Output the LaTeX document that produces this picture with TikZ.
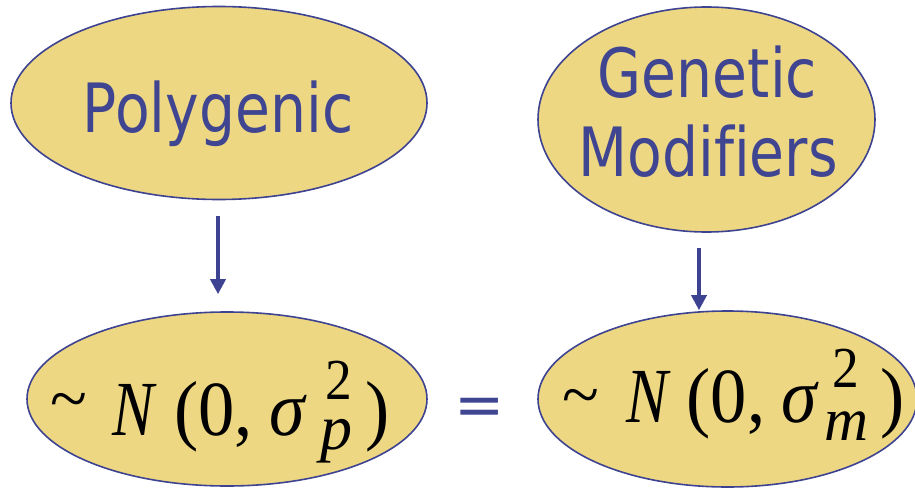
\documentclass[tikz,border=0pt]{standalone}
\usepackage{fontspec}
\usepackage{graphicx}
\usetikzlibrary{shapes.geometric,arrows.meta}
\setmainfont{DejaVu Sans}
\newfontfamily\tms{LiberationSerif}[Extension=.ttf, UprightFont=*-Regular, ItalicFont=*-Italic, BoldFont=*-Bold]
\definecolor{ellfill}{HTML}{EDD783}
\definecolor{ellline}{HTML}{3D4391}
\definecolor{txtblue}{HTML}{3F4590}
\tikzset{
  oval/.style={ellipse, draw=ellline, fill=ellfill, line width=1.6pt, inner sep=0pt},
  wordtxt/.style={anchor=base, inner sep=0pt, text=txtblue, font=\fontsize{68}{68}\selectfont},
  mrom/.style={inner sep=0pt, text=black, font=\tms\fontsize{#1}{#1}\selectfont},
  mital/.style={inner sep=0pt, text=black, font=\tms\itshape\fontsize{#1}{#1}\selectfont},
  arr/.style={draw=ellline, line width=3.5pt, -{Triangle[width=15pt,length=15pt]}}
}
\begin{document}
\begin{tikzpicture}[x=1pt,y=-1pt]
\useasboundingbox (0,0) rectangle (915,487);
% ellipses
\node[oval, minimum width=416pt, minimum height=193pt] (poly) at (219,103) {};
\node[oval, minimum width=337pt, minimum height=225pt] (gm) at (706.5,119.5) {};
\node[oval, minimum width=400pt, minimum height=174pt] (np) at (227,399) {};
\node[oval, minimum width=379pt, minimum height=176pt] (nm) at (727.5,399) {};
% words
\node[wordtxt] (tpoly) at (218,132) {\scalebox{0.835}[1]{Polygenic}};
\node[wordtxt] (tgen) at (707.5,97) {\scalebox{0.835}[1]{Genetic}};
\node[wordtxt] (tmod) at (708,176) {\scalebox{0.835}[1]{Modif\kern0pt iers}};
% left formula
\node[mrom=68, anchor=center] (tl1) at (68.5,407) {\textasciitilde};
\node[mital=78, anchor=base] (tl2) at (133,435) {\scalebox{0.8}[1]{N}};
\node[mrom=78, anchor=base west] (tl3) at (174.3,435) {\scalebox{0.93}[1]{(0,}};
\node[mital=78, anchor=base] (tl4) at (287,435) {\scalebox{0.92}[1]{σ}};
\node[mrom=58, anchor=base] (tl5) at (339,399) {\scalebox{0.92}[1]{2}};
\node[mital=64, anchor=base] (tl6) at (336.5,449) {p};
\node[mrom=78, anchor=base west] (tl7) at (365,435) {\scalebox{0.93}[1]{)}};
% right formula
\node[mrom=68, anchor=center] (tr1) at (580.5,403) {\textasciitilde};
\node[mital=78, anchor=base] (tr2) at (647,422) {\scalebox{0.8}[1]{N}};
\node[mrom=78, anchor=base west] (tr3) at (686.5,422) {\scalebox{0.93}[1]{(0,}};
\node[mital=78, anchor=base] (tr4) at (799,422) {\scalebox{0.92}[1]{σ}};
\node[mrom=58, anchor=base] (tr5) at (846,387) {\scalebox{0.92}[1]{2}};
\node[mital=61, anchor=base] (tr6) at (847,440) {m};
\node[mrom=78, anchor=base west] (tr7) at (880,422) {\scalebox{0.93}[1]{)}};
% equals
\node[inner sep=0pt, text=txtblue, font=\fontsize{60}{60}\selectfont, anchor=center] (eq) at (480,412) {=};
% arrows
\draw[arr] ([xshift=-1pt,yshift=-16pt]poly.south) -- ([xshift=-9pt,yshift=17pt]np.north);
\draw[arr] ([xshift=-7.5pt,yshift=-15pt]gm.south) -- ([xshift=-28.5pt]nm.north);
\end{tikzpicture}
\end{document}
